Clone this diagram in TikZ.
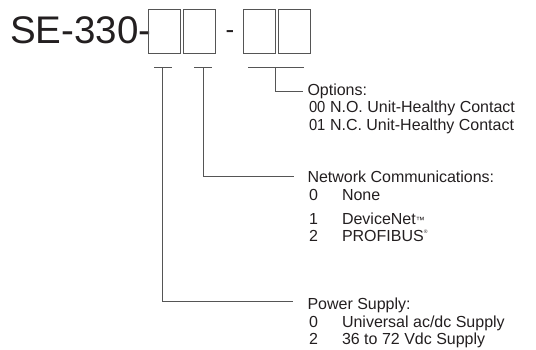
\documentclass[tikz,border=0pt]{standalone}
\usepackage{fontspec}
\setmainfont{Liberation Sans}
\definecolor{ink}{HTML}{231F20}
\definecolor{linegray}{HTML}{555555}
\begin{document}
\begin{tikzpicture}[x=1pt,y=-1pt,
  txt/.style={anchor=base west,inner sep=0pt,outer sep=0pt,text=ink,font=\fontsize{16}{17.5}\selectfont},
  codebox/.style={draw=linegray,line width=0.9pt,inner sep=0pt,minimum width=31.6pt,minimum height=44.3pt},
  conn/.style={draw=linegray,line width=0.9pt}]
\useasboundingbox (0,0) rectangle (536,350);
% title
\node[anchor=base west,inner sep=0pt,text=ink,font=\fontsize{38.5}{40}\selectfont] (title) at (10,44) {SE-330-};
\node[codebox] (b1) at (164.5,31.2) {};
\node[codebox] (b2) at (199.4,31.2) {};
\node[anchor=base,inner sep=0pt,text=ink,font=\fontsize{26}{28}\selectfont] (dash) at (230,38.5) {-};
\node[codebox] (b3) at (259.5,31.2) {};
\node[codebox] (b4) at (294.3,31.2) {};
% bracket coordinates
\coordinate (ka) at (154,67.5);
\coordinate (kb) at (172,67.5);
\coordinate (kc) at (162,67.5);
\coordinate (kd) at (162,301);
\coordinate (ke) at (293,301);
\coordinate (ma) at (194.3,67.5);
\coordinate (mb) at (212.3,67.5);
\coordinate (mc) at (203,67.5);
\coordinate (md) at (203,176);
\coordinate (me) at (294,176);
\coordinate (qa) at (248.3,67.5);
\coordinate (qb) at (303.8,67.5);
\coordinate (qc) at (275.5,67.5);
\coordinate (qd) at (275.5,91.5);
\coordinate (qe) at (302.5,91.5);
% Options
\node[txt] (opt) at (307.5,95.5) {Options:};
\node[txt] (o00) at (309,113) {\scalebox{0.92}[1]{00}};
\node[txt] (o00t) at (330,113) {N.O. Unit-Healthy Contact};
\node[txt] (o01) at (309,130.5) {\scalebox{0.92}[1]{01}};
\node[txt] (o01t) at (330,130.5) {N.C. Unit-Healthy Contact};
% Network
\node[txt] (net) at (307.5,183) {Network Communications:};
\node[txt] (n0) at (309,200.5) {0};
\node[txt] (n0t) at (342,200.5) {None};
\node[txt] (n1) at (309,225) {1};
\node[txt] (n1t) at (342,225) {DeviceNet\raisebox{1.5pt}{\fontsize{9}{9}\selectfont ™}};
\node[txt] (n2) at (309,242) {2};
\node[txt] (n2t) at (342,242) {PROFIBUS\raisebox{9pt}{\fontsize{5}{5}\selectfont ®}};
% Power
\node[txt] (pow) at (307.5,309.5) {Power Supply:};
\node[txt] (w0) at (309,327) {0};
\node[txt] (w0t) at (342,327) {Universal ac/dc Supply};
\node[txt] (w2) at (309,344.5) {2};
\node[txt] (w2t) at (342,344.5) {36 to 72 Vdc Supply};
% connectors
\draw[conn] (ka) -- (kb);
\draw[conn] (kc) -- (kd) -- (ke);
\draw[conn] (ma) -- (mb);
\draw[conn] (mc) -- (md) -- (me);
\draw[conn] (qa) -- (qb);
\draw[conn] (qc) -- (qd) -- (qe);
\end{tikzpicture}
\end{document}
